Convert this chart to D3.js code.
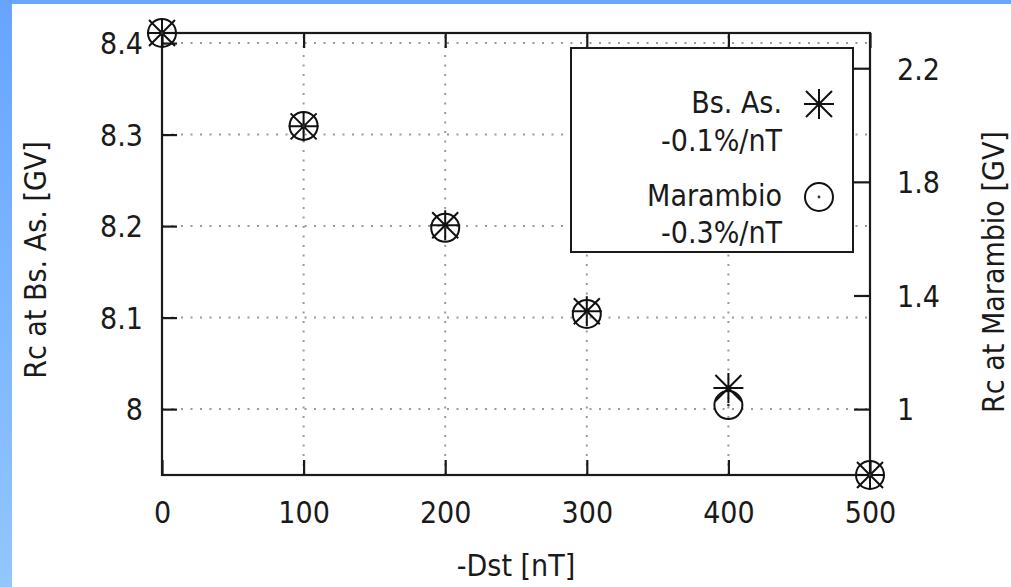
<!DOCTYPE html>
<html>
<head>
<meta charset="utf-8">
<script src="https://cdn.jsdelivr.net/npm/d3@7"></script>
<style>
  html, body { margin: 0; padding: 0; background: #fff; }
  svg text { font-family: "DejaVu Sans Condensed", "DejaVu Sans", sans-serif; font-stretch: semi-condensed; fill: #1a1a1a; }
</style>
</head>
<body>
<svg id="chart" width="1011" height="587"></svg>
<script>
// Cutoff rigidity vs. storm intensity
const dstValues = [0, 100, 200, 300, 400, 500];
const rcBsAs = [8.411, 8.309, 8.201, 8.107, 8.023, 7.928];
const rcMarambio = [2.324, 1.997, 1.638, 1.335, 1.014, 0.768];
const xTicks = [0, 100, 200, 300, 400, 500];
const yLeftTicks = [8.0, 8.1, 8.2, 8.3, 8.4];
const yRightTicks = [1.0, 1.4, 1.8, 2.2];
const legendLabels = [["Bs. As.", "-0.1%/nT"], ["Marambio", "-0.3%/nT"]];
const axisTitles = { x: "-Dst [nT]", yLeft: "Rc at Bs. As. [GV]", yRight: "Rc at Marambio [GV]" };

const svg = d3.select("#chart");
const W = 1011, H = 587;
const plot = { left: 162, right: 870, top: 33, bottom: 475 };
const FONT = 30;

// page frame
const defs = svg.append("defs");
const grad = defs.append("linearGradient").attr("id", "sideBlue")
  .attr("x1", 0).attr("y1", 0).attr("x2", 0).attr("y2", 1);
grad.append("stop").attr("offset", "0%").attr("stop-color", "#67a4ff");
grad.append("stop").attr("offset", "100%").attr("stop-color", "#92c6ff");
svg.append("rect").attr("width", W).attr("height", H).attr("fill", "#fff");
svg.append("rect").attr("x", 0).attr("y", 0).attr("width", W).attr("height", 4).attr("fill", "#6aa6ff");
svg.append("rect").attr("x", 0).attr("y", 0).attr("width", 12).attr("height", H).attr("fill", "url(#sideBlue)");

const x = d3.scaleLinear().domain(d3.extent(dstValues)).range([plot.left, plot.right]);
const yL = d3.scaleLinear().domain(d3.extent(rcBsAs)).range([plot.bottom, plot.top]);
const yR = d3.scaleLinear().domain(d3.extent(rcMarambio)).range([plot.bottom, plot.top]);

// grid
const grid = svg.append("g").attr("stroke", "#9a9a9a").attr("stroke-width", 2)
  .attr("stroke-dasharray", "2,7.5").attr("fill", "none");
xTicks.filter(t => t > 0 && t < 500).forEach(t => {
  grid.append("line").attr("x1", x(t)).attr("x2", x(t)).attr("y1", plot.bottom).attr("y2", plot.top);
});
yLeftTicks.forEach(t => {
  grid.append("line").attr("x1", plot.left).attr("x2", plot.right).attr("y1", yL(t)).attr("y2", yL(t));
});

// axes with inward ticks
function styleAxis(g) {
  g.select(".domain").remove();
  g.selectAll(".tick line").attr("stroke", "#1a1a1a").attr("stroke-width", 2.2);
  g.selectAll(".tick text").attr("font-size", FONT).attr("fill", "#1a1a1a");
  g.attr("font-family", null).attr("font-size", null);
}
const xb = svg.append("g").attr("transform", `translate(0,${plot.bottom})`)
  .call(d3.axisBottom(x).tickValues(xTicks).tickSizeInner(-15).tickSizeOuter(0).tickFormat(d3.format("d")));
styleAxis(xb);
xb.selectAll(".tick text").attr("y", 48).attr("dy", 0);

const xt = svg.append("g").attr("transform", `translate(0,${plot.top})`)
  .call(d3.axisTop(x).tickValues(xTicks).tickSizeInner(-15).tickSizeOuter(0).tickFormat(""));
styleAxis(xt);

const yl = svg.append("g").attr("transform", `translate(${plot.left},0)`)
  .call(d3.axisLeft(yL).tickValues(yLeftTicks).tickSizeInner(-15).tickSizeOuter(0)
    .tickFormat(d => d === 8 ? "8" : d3.format(".1f")(d)));
styleAxis(yl);
yl.selectAll(".tick text").attr("x", -19).attr("dy", "0.36em");

const yr = svg.append("g").attr("transform", `translate(${plot.right},0)`)
  .call(d3.axisRight(yR).tickValues(yRightTicks).tickSizeInner(-16).tickSizeOuter(0)
    .tickFormat(d => d === 1 ? "1" : d3.format(".1f")(d)));
styleAxis(yr);
yr.selectAll(".tick text").attr("x", 27).attr("dy", "0.36em");

// legend box (opaque, over grid)
const lg = svg.append("g");
lg.append("rect").attr("x", 571).attr("y", 48).attr("width", 282).attr("height", 204)
  .attr("fill", "#fff").attr("stroke", "#1a1a1a").attr("stroke-width", 2);

// plot frame
svg.append("rect").attr("x", plot.left).attr("y", plot.top)
  .attr("width", plot.right - plot.left).attr("height", plot.bottom - plot.top)
  .attr("fill", "none").attr("stroke", "#1a1a1a").attr("stroke-width", 2.2);

// markers
function drawStar(g, cx, cy) {
  const s = 15, d = 13;
  const p = d3.path();
  p.moveTo(cx - s, cy); p.lineTo(cx + s, cy);
  p.moveTo(cx, cy - s); p.lineTo(cx, cy + s);
  p.moveTo(cx - d, cy - d); p.lineTo(cx + d, cy + d);
  p.moveTo(cx - d, cy + d); p.lineTo(cx + d, cy - d);
  g.append("path").attr("d", p.toString()).attr("stroke", "#111").attr("stroke-width", 2).attr("fill", "none");
  g.append("circle").attr("cx", cx).attr("cy", cy).attr("r", 2.5).attr("fill", "#111");
}
function drawRing(g, cx, cy) {
  g.append("circle").attr("cx", cx).attr("cy", cy).attr("r", 14)
    .attr("stroke", "#111").attr("stroke-width", 2).attr("fill", "none");
  g.append("circle").attr("cx", cx).attr("cy", cy).attr("r", 1.4).attr("fill", "#333");
}
const marks = svg.append("g");
dstValues.forEach((d, i) => drawStar(marks, x(d), yL(rcBsAs[i])));
dstValues.forEach((d, i) => drawRing(marks, x(d), yR(rcMarambio[i])));

// legend entries
const legendText = [[113, 151], [206, 243]];
legendLabels.forEach((pair, i) => {
  pair.forEach((t, j) => {
    lg.append("text").attr("x", 782).attr("y", legendText[i][j]).attr("text-anchor", "end")
      .attr("font-size", FONT).text(t);
  });
});
drawStar(lg, 819, 104);
drawRing(lg, 819, 197);

// axis titles
svg.append("text").attr("x", (plot.left + plot.right) / 2).attr("y", 576).attr("text-anchor", "middle")
  .attr("font-size", FONT).text(axisTitles.x);
svg.append("text").attr("transform", `translate(46,260) rotate(-90)`).attr("text-anchor", "middle")
  .attr("font-size", FONT).text(axisTitles.yLeft);
svg.append("text").attr("transform", `translate(1004,272) rotate(-90)`).attr("text-anchor", "middle")
  .attr("font-size", FONT).text(axisTitles.yRight);
</script>
</body>
</html>
